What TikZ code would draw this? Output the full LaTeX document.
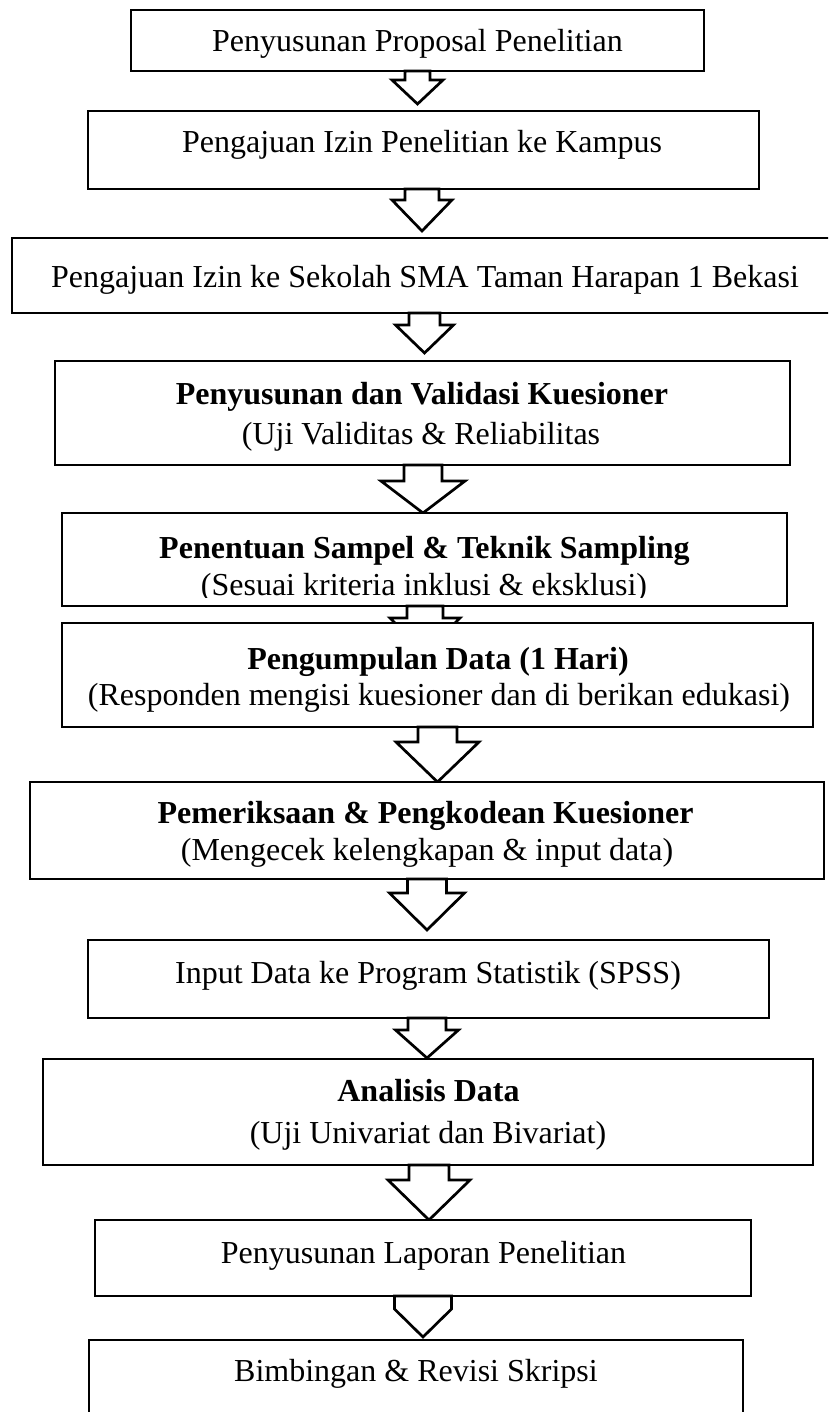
\documentclass[tikz,border=0pt]{standalone}
\usepackage{fontspec}
\setmainfont{Liberation Serif}
\usetikzlibrary{calc}
\tikzset{
  box/.style={draw=black, line width=2.7pt, fill=white, inner sep=0pt, outer sep=0pt},
  thinbox/.style={draw=black, line width=1.2pt, fill=white, inner sep=0pt, outer sep=0pt},
  txt/.style={inner sep=0pt, anchor=base, font=\fontsize{32}{40}\selectfont},
  btxt/.style={txt, font=\fontsize{32}{40}\selectfont\bfseries},
  barrow/.style={draw=black, line width=2.7pt, fill=white, line join=miter}
}
% #1 from node, #2 centre x, #3 shaft half width, #4 head half width, #5 shoulder y, #6 tip y
\newcommand{\blockarr}[6]{%
  \draw[barrow] let \p1=(#1.south) in
    ({(#2-#3)*1pt},\y1) -- ({(#2-#3)*1pt},{-#5*1pt}) -- ({(#2-#4)*1pt},{-#5*1pt})
    -- ({#2*1pt},{-#6*1pt}) -- ({(#2+#4)*1pt},{-#5*1pt}) -- ({(#2+#3)*1pt},{-#5*1pt})
    -- ({(#2+#3)*1pt},\y1) -- cycle;}
\begin{document}
\begin{tikzpicture}[x=1pt,y=-1pt]
\clip (0,0) rectangle (828,1412);
\fill[white] (0,0) rectangle (828,1412);

% 1
\node[box, minimum width=573pt, minimum height=61pt] (b1) at (417.5,40.5) {};
\node[txt] (t1) at (417.5,52) {Penyusunan Proposal Penelitian};
\blockarr{b1}{417.5}{12.5}{25.5}{80}{104}
% 2
\node[box, minimum width=671pt, minimum height=78pt] (b2) at (423.5,150) {};
\node[txt] (t2) at (422,153) {Pengajuan Izin Penelitian ke Kampus};
\blockarr{b2}{422}{17}{30}{200}{231}
% 3
\node[box, minimum width=828pt, minimum height=75pt] (b3) at (426,275.5) {};
\node[txt] (t3) at (425,288) {Pengajuan Izin ke Sekolah SMA Taman Harapan 1 Bekasi};
\blockarr{b3}{424.5}{15.5}{29}{325}{353}
% 4
\node[box, minimum width=735pt, minimum height=104pt] (b4) at (422.5,413) {};
\node[btxt] (t4a) at (422,404) {Penyusunan dan Validasi Kuesioner};
\node[txt] (t4b) at (421,444) {(Uji Validitas \& Reliabilitas};
\blockarr{b4}{423}{19}{42}{481}{513}
% 5
\node[box, minimum width=725pt, minimum height=93pt] (b5) at (424.5,559.5) {};
\node[btxt] (t5a) at (424.5,558) {Penentuan Sampel \& Teknik Sampling};
\begin{scope}
  \clip (0,0) rectangle (828,597);
  \node[txt] (t5b) at (424,595) {(Sesuai kriteria inklusi \& eksklusi)};
\end{scope}
\blockarr{b5}{425}{18}{35}{618}{653}
% 6
\node[box, minimum width=751pt, minimum height=104pt] (b6) at (437.5,675) {};
\node[btxt] (t6a) at (438,669) {Pengumpulan Data (1 Hari)};
\node[txt] (t6b) at (439,705) {(Responden mengisi kuesioner dan di berikan edukasi)};
\blockarr{b6}{437.5}{19.5}{41.5}{742}{782}
% 7
\node[box, minimum width=794pt, minimum height=97pt] (b7) at (427,830.5) {};
\node[btxt] (t7a) at (425.5,823) {Pemeriksaan \& Pengkodean Kuesioner};
\begin{scope}
  \clip (0,0) rectangle (828,867);
  \node[txt] (t7b) at (427,860) {(Mengecek kelengkapan \& input data)};
\end{scope}
\blockarr{b7}{427}{19.5}{37.5}{893}{930}
% 8
\node[box, minimum width=681pt, minimum height=78pt] (b8) at (428.5,979) {};
\node[txt] (t8) at (428,983) {Input Data ke Program Statistik (SPSS)};
\blockarr{b8}{427}{19}{31.5}{1030}{1058}
% 9
\node[box, minimum width=770pt, minimum height=106pt] (b9) at (428,1112) {};
\node[btxt] (t9a) at (428.5,1101) {Analisis Data};
\node[txt] (t9b) at (428,1143) {(Uji Univariat dan Bivariat)};
\blockarr{b9}{429}{20}{41}{1180}{1220}
% 10
\node[box, minimum width=656pt, minimum height=76pt] (b10) at (423,1258) {};
\node[txt] (t10) at (423.5,1263) {Penyusunan Laporan Penelitian};
\blockarr{b10}{423}{28.5}{28.5}{1309}{1337}
% 11
\node[thinbox, minimum width=654pt, minimum height=90pt] (b11) at (416,1385) {};
\node[txt] (t11) at (416,1381) {Bimbingan \& Revisi Skripsi};
\end{tikzpicture}
\end{document}
